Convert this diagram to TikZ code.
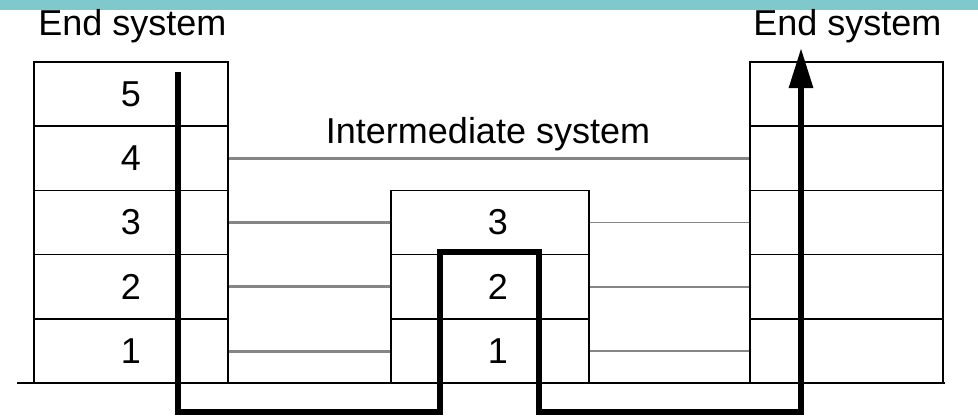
\documentclass[tikz,border=0pt]{standalone}
\usepackage{fontspec}
\setmainfont{Liberation Sans}
\usepackage{tikz}
\usetikzlibrary{arrows.meta}
\definecolor{topbar}{HTML}{7FC8CC}
\definecolor{peergray}{HTML}{858585}

\begin{document}
\begin{tikzpicture}[x=0.5pt,y=-0.5pt,
    cell/.style={draw,line width=0.75pt,inner sep=0pt,minimum height=32.1pt},
    leftcell/.style={cell,minimum width=97pt},
    midcell/.style={cell,minimum width=99pt},
    peer/.style={draw=peergray,line width=1.5pt},
    thinpeer/.style={draw=peergray,line width=0.8pt},
    flow/.style={line width=3pt,line join=miter,-{Triangle[length=20pt,width=11.5pt]}},
    every node/.style={font=\fontsize{18}{20}\selectfont}]
  \useasboundingbox (0,0) rectangle (978,418);
  \fill[topbar] (0,0) rectangle (978,10);
  % end system, left
  \foreach \k/\lbl in {5/5,4/4,3/3,2/2,1/1} {
    \node[leftcell] (l\k) at (131,{94+(5-\k)*64.25}) {\lbl};
  }
  % end system, right
  \foreach \k in {5,4,3,2,1} {
    \node[leftcell,minimum width=96.5pt] (r\k) at (846.5,{94+(5-\k)*64.25}) {};
  }
  % intermediate system
  \foreach \k in {3,2,1} {
    \node[midcell] (m\k) at (490,{94+(5-\k)*64.25}) {\hspace{8pt}\k};
  }
  \draw[line width=0.75pt] (17,383) -- (945,383);
  \node[anchor=base west,inner sep=0pt] (lend) at (38,35) {End system};
  \node[anchor=base west,inner sep=0pt] (rend) at (753,35) {End system};
  \node[anchor=base,inner sep=0pt] (inter) at (488,143) {Intermediate system};
  % peer connections
  \draw[peer] (l4.east) -- (r4.west);
  \foreach \k in {3,2,1} {
    \draw[peer] (l\k.east) -- (m\k.west);
    \draw[thinpeer] (m\k.east) -- (r\k.west);
  }
  % data path
  \coordinate (src) at (178,72);
  \coordinate (dst) at (801,48);
  \draw[flow] (src) |- (440,412) |- (539,252) |- (801,412) -- (dst);
\end{tikzpicture}
\end{document}
